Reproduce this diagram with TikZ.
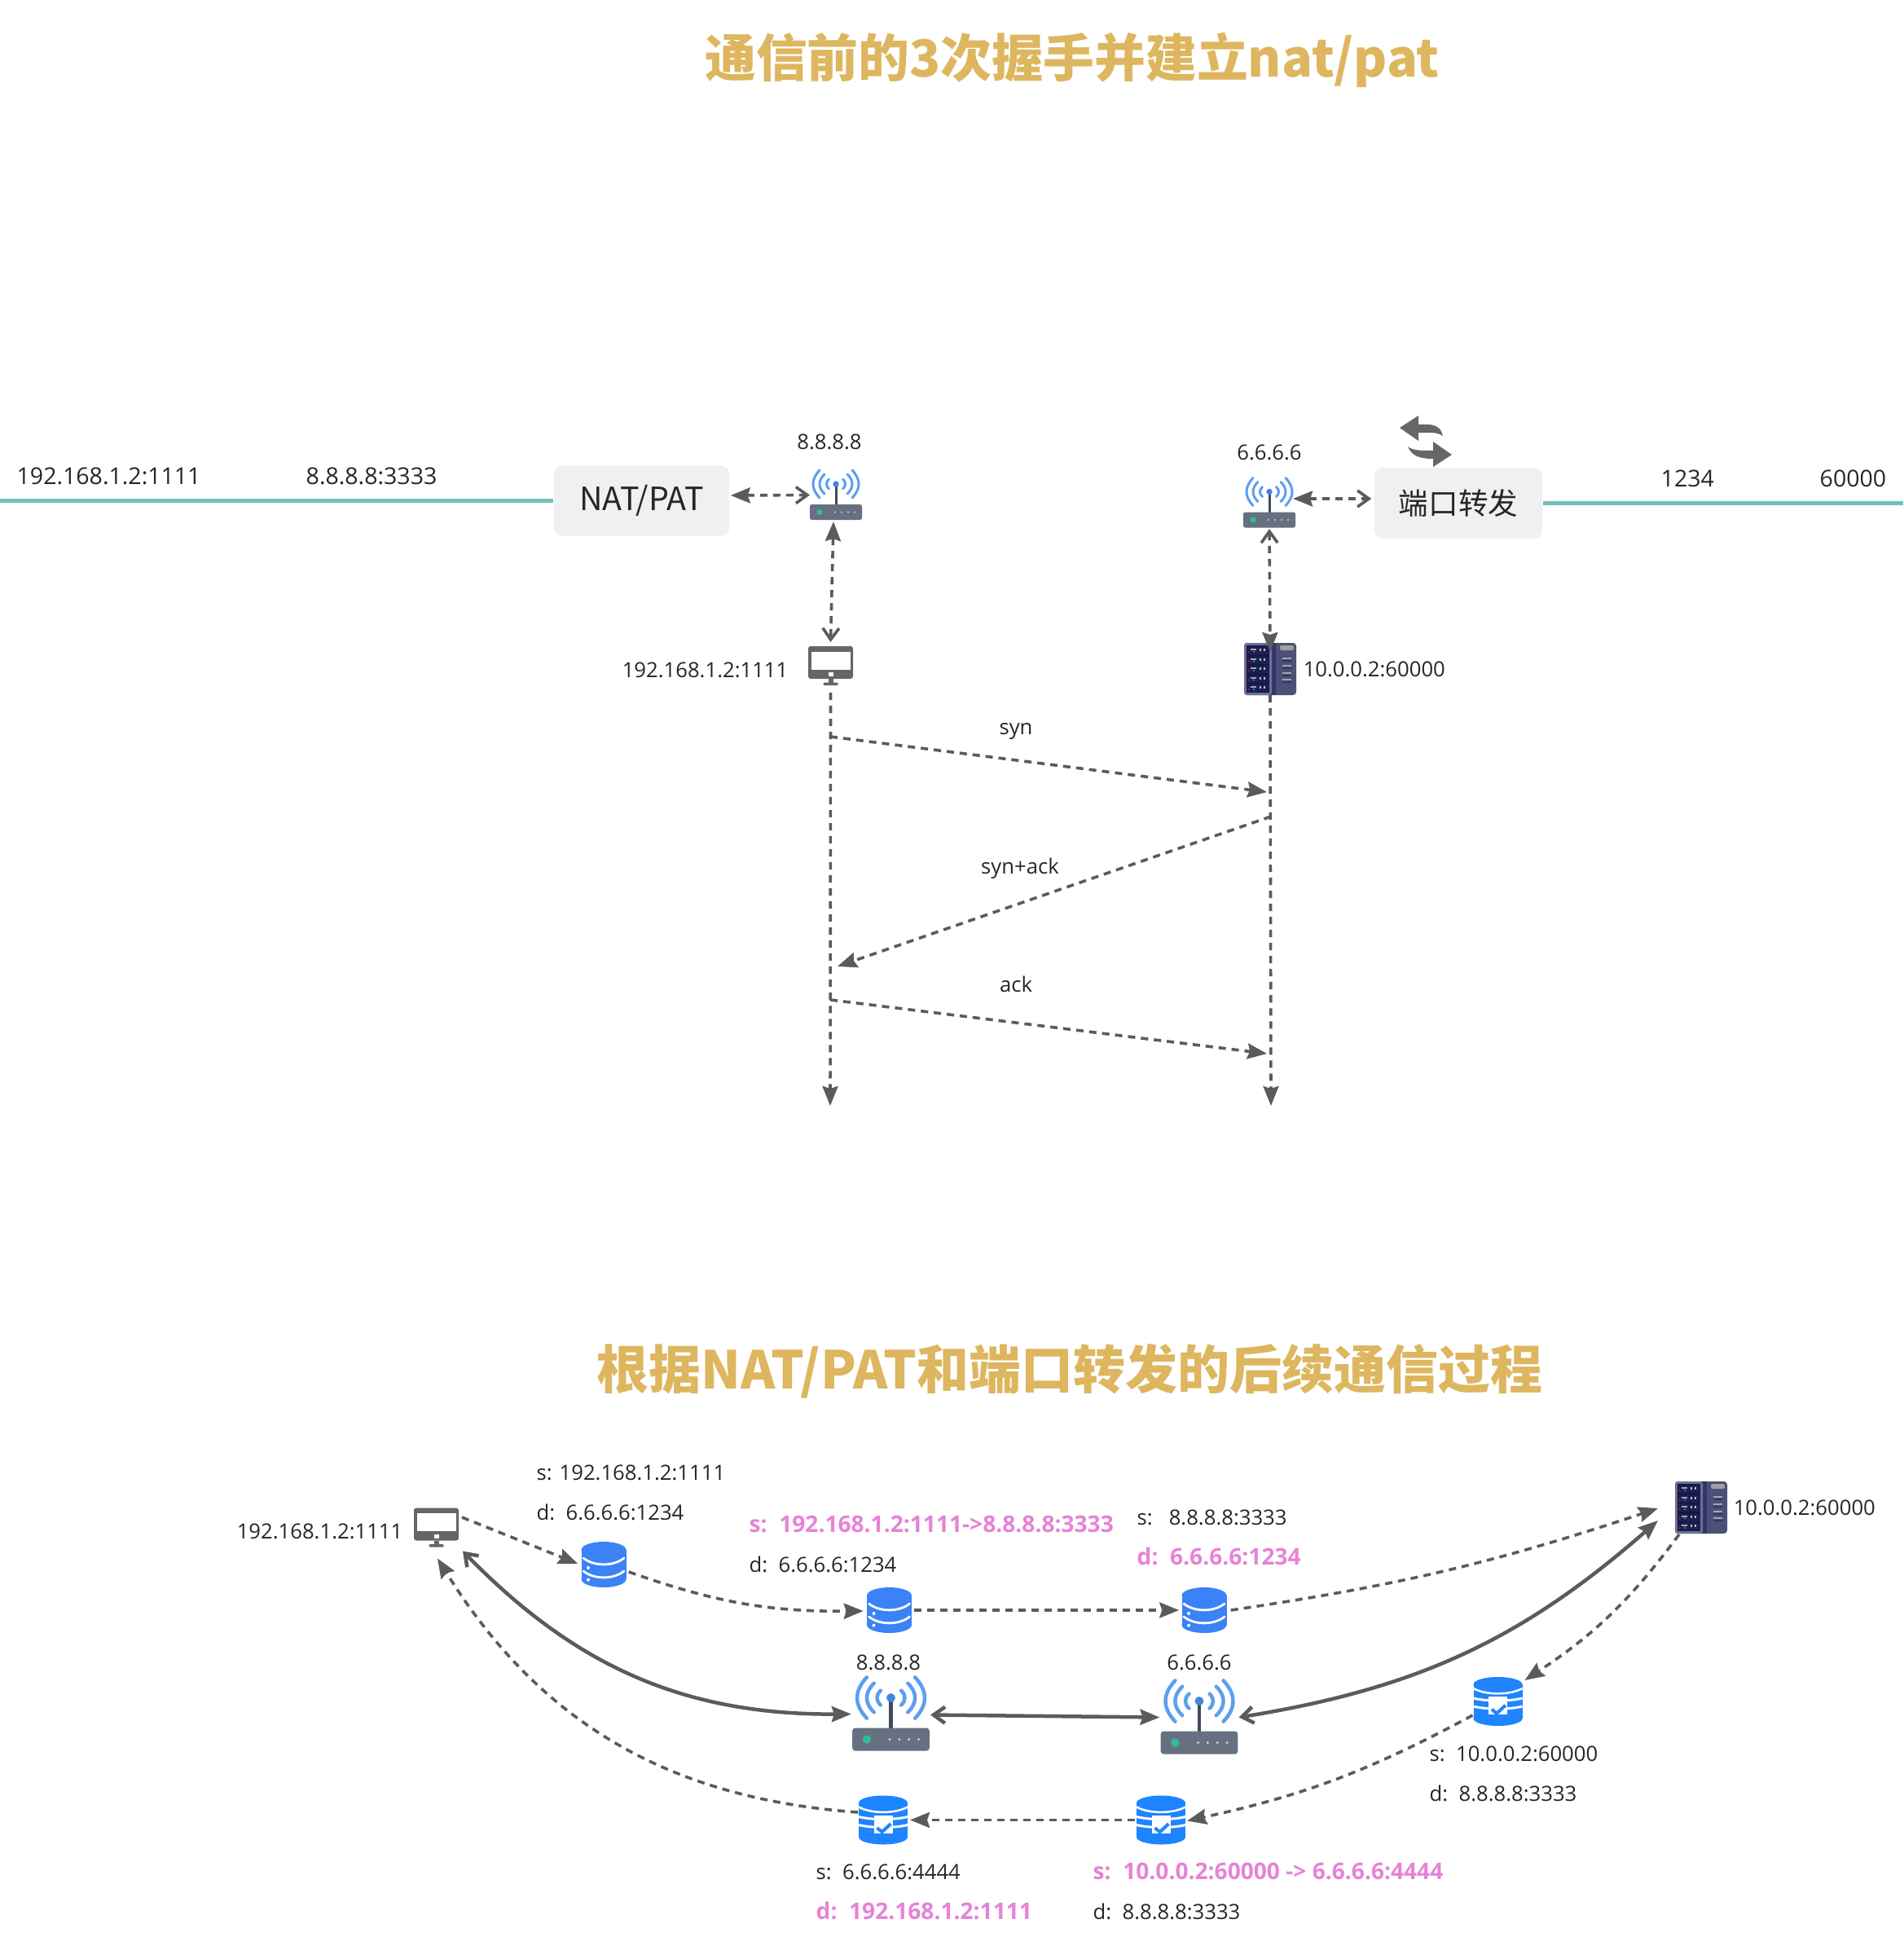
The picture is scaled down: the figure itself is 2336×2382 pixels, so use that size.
\documentclass[tikz,border=0pt]{standalone}
\usepackage{fontspec}
\setmainfont{Open Sans}
\newfontfamily\cjk{Noto Sans CJK SC}
\usetikzlibrary{arrows.meta,positioning,calc}
\definecolor{linegray}{HTML}{5A5C5A}
\definecolor{icongray}{HTML}{666666}
\definecolor{wirecol}{HTML}{6FC1BB}
\definecolor{boxfill}{HTML}{EFF1F0}
\definecolor{titlecol}{HTML}{DDB65F}
\definecolor{hotpink}{HTML}{E683D6}
\definecolor{textcol}{HTML}{262626}
\definecolor{dbblue}{HTML}{3B82F6}
\definecolor{chkblue}{HTML}{1E84FF}
\definecolor{wavecol}{HTML}{5B9FEF}
\definecolor{mastcol}{HTML}{3F4A5A}
\definecolor{tipdot}{HTML}{4285E0}
\definecolor{routerbody}{HTML}{667080}
\definecolor{ledcol}{HTML}{2EBD94}
\definecolor{rackbody}{HTML}{4C4F76}
\definecolor{rackedge}{HTML}{6E6F94}
\definecolor{rackdark}{HTML}{14174A}
\definecolor{rackrow}{HTML}{1C2050}
\definecolor{rackstrip}{HTML}{33356A}
\tikzset{
  pics/router/.style={code={
    \begin{scope}[scale=#1]
      \foreach \side in {1,-1}{
        \draw[wavecol, line width=#1*0.03cm, line cap=round]
          (\side*20,-30.5) .. controls (\side*30.7,-19) and (\side*30.7,-8) .. (\side*20,3.5);
        \draw[wavecol, line width=#1*0.03cm, line cap=round]
          (\side*14,-25.5) .. controls (\side*22,-18) and (\side*22,-9) .. (\side*14,-1.5);
        \draw[wavecol, line width=#1*0.03cm, line cap=round]
          (\side*8.5,-19.5) .. controls (\side*12.5,-16) and (\side*12.5,-11) .. (\side*8.5,-7.5);
      }
      \draw[mastcol, line width=#1*0.03cm] (0,-13.5) -- (0,11.5);
      \fill[tipdot] (0,-13.5) circle [radius=3.7];
      \fill[rounded corners=#1*0.025cm, fill=routerbody] (-32,11.5) rectangle (32,30.5);
      \fill[ledcol] (-20,21) circle [radius=3.6];
      \foreach \dotx in {-1,7,15,23}
        \fill[gray!35] (\dotx,21) circle [radius=1.1];
    \end{scope}
  }},
  pics/screen/.style={code={
    \begin{scope}[scale=#1]
      \fill[icongray, rounded corners=#1*0.03cm] (-27.5,-24) rectangle (27.5,16);
      \fill[white] (-24,-17.5) rectangle (24,4.7);
      \fill[icongray] (-3,16) rectangle (3,21);
      \fill[white] (-3,8) rectangle (3,13);
      \fill[icongray, rounded corners=#1*0.01cm] (-9,20.5) rectangle (9,24);
    \end{scope}
  }},
  pics/dbplain/.style={code={
    \begin{scope}[scale=#1]
      \fill[dbblue] (0,-18) ellipse [x radius=27.5, y radius=10];
      \fill[dbblue] (0,18) ellipse [x radius=27.5, y radius=10];
      \fill[dbblue] (-27.5,-18) rectangle (27.5,18);
      \draw[white, line width=#1*0.028cm, line cap=round] (-25,-8) .. controls (-12,2.5) and (12,2.5) .. (25,-8);
      \draw[white, line width=#1*0.028cm, line cap=round] (-25,8) .. controls (-12,18.5) and (12,18.5) .. (25,8);
      \fill[white] (-19,4) circle [radius=2];
      \fill[white] (-19,18.7) circle [radius=2];
    \end{scope}
  }},
  pics/dbcheck/.style={code={
    \begin{scope}[scale=#1]
      \fill[chkblue] (0,21) ellipse [x radius=30, y radius=9];
      \fill[chkblue] (-30,-21) rectangle (30,21);
      \fill[chkblue] (0,-21) ellipse [x radius=30, y radius=9];
      \draw[white, line width=#1*0.025cm] (-30,-16) .. controls (-15,-7.5) and (15,-7.5) .. (30,-16);
      \draw[white, line width=#1*0.03cm] (-30,-4) .. controls (-15,0) and (15,0) .. (30,-4);
      \draw[white, line width=#1*0.03cm] (-30,6) .. controls (-15,10) and (15,10) .. (30,6);
      \fill[white] (-11.5,-6) rectangle (11.5,16);
      \draw[chkblue, line width=#1*0.04cm] (-7.5,9.7) -- (-1.4,14.7) -- (9.3,4.7);
    \end{scope}
  }},
  pics/rack/.style={code={
    \fill[rackbody, rounded corners=0.04cm] (-32,-32) rectangle (32,32);
    \fill[rackstrip] (0,-32) rectangle (7,32);
    \fill[rackedge, rounded corners=0.03cm] (-32,-32) rectangle (2,32);
    \fill[rackdark] (-29,-29) rectangle (-1,29);
    \foreach \rowy in {-22,-10.5,1,12.5,24}{
      \fill[rackrow] (-28,\rowy-5) rectangle (-2,\rowy+4);
      \fill[red] (-26.5,\rowy+1) circle [radius=1.2];
      \fill[cyan] (-20,\rowy+1) circle [radius=1.2];
      \fill[gray!70] (-24,\rowy-3) rectangle (-17,\rowy-1);
      \fill[gray!50] (-13,\rowy-3) rectangle (-11.5,\rowy);
      \fill[gray!50] (-8,\rowy-3) rectangle (-6.5,\rowy);
    }
    \fill[gray!75, rounded corners=0.02cm] (12,-29) rectangle (29,-23);
    \foreach \slotx in {-13,-4,5,13}{
      \fill[gray!70] (15,\slotx-1) rectangle (26,\slotx+1);
    }
    \foreach \slotx in {-10,-1,8,16}{
      \fill[rackstrip] (15,\slotx-0.7) rectangle (26,\slotx+0.7);
    }
  }},
  pics/swapicon/.style={code={
    \fill[icongray] (-32,-16) -- (-9,-31) -- (-9,-20) .. controls (7,-21) and (18,-20) .. (21,-6)
      .. controls (14,-11) and (5,-10) .. (-9,-10) -- (-9,0) -- cycle;
    \fill[icongray] (32,17) -- (9,1) -- (9,12) .. controls (-6,12) and (-16,12) .. (-22,7)
      .. controls (-18,18) and (-8,22) .. (9,22) -- (9,32) -- cycle;
  }},
  ftip/.tip={Stealth[length=0.24cm, width=0.19cm, inset=0.03cm]},
  otip/.tip={Straight Barb[length=0.14cm, width=0.2cm]}
}

\begin{document}
\begin{tikzpicture}[
    x=0.01cm, y=-0.01cm,
    bigtitle/.style={font=\cjk\bfseries\fontsize{18.2pt}{22pt}\selectfont, text=titlecol, inner sep=0pt},
    box/.style={rectangle, rounded corners=3pt, fill=boxfill, text=textcol, inner sep=0pt,
                minimum height=0.87cm, font=\cjk\fontsize{10.4pt}{12pt}\selectfont},
    icon/.style={inner sep=0pt, outer sep=0pt, minimum width=#1},
    lbl/.style={inner sep=0pt, text=textcol, text height=0.19cm, text depth=0pt,
                font=\fontsize{7.3pt}{9pt}\selectfont},
    wirelbl/.style={lbl, font=\fontsize{8.1pt}{10pt}\selectfont},
    hot/.style={lbl, text=hotpink, font=\bfseries\fontsize{8pt}{9pt}\selectfont},
    nextline/.style={below right=0.29cm and 0cm of #1.south west},
    wire/.style={wirecol, line width=0.05cm},
    dline/.style={linegray, line width=0.036cm, dash pattern=on 0.09cm off 0.07cm},
    sline/.style={linegray, line width=0.045cm}
  ]
  \useasboundingbox (0,0) rectangle (2336,2382);

  % upper half
  \node[bigtitle, font=\cjk\bfseries\fontsize{17.87pt}{22pt}\selectfont] (titlea) at (1316,74) {通信前的3次握手并建立nat/pat};
  \node[box, minimum width=2.15cm, font=\cjk\fontsize{11.2pt}{13pt}\selectfont] (nat) at (787.5,614.5) {NAT/PAT};
  \node[box, minimum width=2.06cm] (port) at (1790,617.5) {端口转发};
  \node[icon=0.64cm, minimum height=0.61cm] (r1) at (1026,607.5) {};
  \node[icon=0.64cm, minimum height=0.60cm] (r2) at (1558,617) {};
  \node[icon=0.55cm, minimum height=0.48cm] (m1) at (1019.5,817) {};
  \node[icon=0.64cm, minimum height=0.64cm] (s1) at (1559,821) {};
  \pic at (r1) {router=1};
  \pic at (r2) {router=1};
  \pic at (m1) {screen=1};
  \pic at (s1) {rack};
  \pic at (1750,541) {swapicon};

  \node[lbl, above=0.25cm of r1, xshift=-0.08cm] (r1ip) {8.8.8.8};
  \node[lbl, above=0.22cm of r2] (r2ip) {6.6.6.6};
  \node[lbl, left=0.24cm of m1, yshift=-0.05cm] (m1ip) {192.168.1.2:1111};
  \node[lbl, right=0.08cm of s1] (s1ip) {10.0.0.2:60000};

  \coordinate (wirea) at (0,614.5);
  \coordinate (wireb) at (2336,617.5);
  \draw[wire] (wirea) -- (nat.west);
  \draw[wire] (port.east) -- (wireb);
  \node[wirelbl, anchor=west] (wla) at (20,585) {192.168.1.2:1111};
  \node[wirelbl, anchor=west] (wlb) at (375,585) {8.8.8.8:3333};
  \node[wirelbl, anchor=west] (wlc) at (2038,588) {1234};
  \node[wirelbl, anchor=west] (wld) at (2233,588) {60000};

  \draw[dline, {ftip}-{otip}] ($(nat.east)+(1,-6.5)$) -- (r1.west);
  \draw[dline, {ftip}-{otip}] ($(r1.south)+(-3,2)$) -- ($(m1.north)+(0,-5)$);
  \draw[dline, {ftip}-{otip}] ($(r2.east)+(-3,-5)$) -- ($(port.west)+(-3,-5.5)$);
  \draw[dline, {otip}-{ftip}] ($(r2.south)+(0,2)$) -- ($(s1.north)+(0,11)$);

  % the three messages
  \coordinate (enda) at (1019,1357);
  \coordinate (endb) at (1560,1357);
  \coordinate (syna) at (1019,904);
  \coordinate (synb) at (1555,972);
  \coordinate (acka) at (1560,1002);
  \coordinate (ackb) at (1028,1186);
  \coordinate (lasta) at (1019,1227);
  \coordinate (lastb) at (1555,1293);
  \draw[dline, -{ftip}] ($(m1.south)+(0,9)$) -- (enda);
  \draw[dline, -{ftip}] (s1.south) -- (endb);
  \draw[dline, -{ftip}] (syna) -- (synb);
  \draw[dline, -{ftip}] (acka) -- (ackb);
  \draw[dline, -{ftip}] (lasta) -- (lastb);
  \node[lbl] (synlbl) at (1247,892) {syn};
  \node[lbl] (acklbl) at (1252,1063) {syn+ack};
  \node[lbl] (lastlbl) at (1247,1208) {ack};

  % lower half
  \node[bigtitle] (titleb) at (1313,1683) {根据NAT/PAT和端口转发的后续通信过程};
  \node[icon=0.55cm, minimum height=0.48cm] (m2) at (535.5,1874.5) {};
  \node[icon=0.555cm, minimum height=0.56cm] (db1) at (741,1920) {};
  \node[icon=0.555cm, minimum height=0.56cm] (db2) at (1091.5,1976) {};
  \node[icon=0.555cm, minimum height=0.56cm] (db3) at (1478,1976) {};
  \node[icon=0.64cm, minimum height=0.64cm] (s2) at (2088,1850) {};
  \node[icon=0.95cm, minimum height=0.91cm] (r3) at (1093.5,2103.5) {};
  \node[icon=0.95cm, minimum height=0.91cm] (r4) at (1472,2107.5) {};
  \node[icon=0.60cm, minimum height=0.60cm] (db5) at (1838.5,2088) {};
  \node[icon=0.60cm, minimum height=0.60cm] (db6) at (1425,2233.5) {};
  \node[icon=0.60cm, minimum height=0.60cm] (db7) at (1084,2233.5) {};
  \pic at (m2) {screen=1};
  \pic at (s2) {rack};
  \pic at (r3) {router=1.48};
  \pic at (r4) {router=1.48};
  \foreach \dbname in {db1,db2,db3} \pic at (\dbname) {dbplain=1};
  \foreach \dbname in {db5,db6,db7} \pic at (\dbname) {dbcheck=1};

  \node[lbl, left=0.13cm of m2, yshift=-0.045cm] (m2ip) {192.168.1.2:1111};
  \node[lbl, right=0.07cm of s2] (s2ip) {10.0.0.2:60000};
  \node[lbl, above=0.08cm of r3, xshift=-0.03cm] (r3ip) {8.8.8.8};
  \node[lbl, above=0.12cm of r4] (r4ip) {6.6.6.6};

  \node[lbl, anchor=west] (sa) at (658,1807) {s: 192.168.1.2:1111};
  \node[lbl, nextline=sa] (da) {d:\ \ 6.6.6.6:1234};
  \node[hot, anchor=west] (sb) at (919,1871) {s:\ \ 192.168.1.2:1111->8.8.8.8:3333};
  \node[lbl, nextline=sb] (db) {d:\ \ 6.6.6.6:1234};
  \node[lbl, anchor=west] (sc) at (1395,1862) {s:\ \ \ 8.8.8.8:3333};
  \node[hot, nextline=sc] (dc) {d:\ \ 6.6.6.6:1234};
  \node[lbl, anchor=west] (sd) at (1754,2152) {s:\ \ 10.0.0.2:60000};
  \node[lbl, nextline=sd] (dd) {d:\ \ 8.8.8.8:3333};
  \node[hot, anchor=west] (se) at (1341,2297) {s:\ \ 10.0.0.2:60000 -> 6.6.6.6:4444};
  \node[lbl, nextline=se] (de) {d:\ \ 8.8.8.8:3333};
  \node[lbl, anchor=west] (sf) at (1001,2297) {s:\ \ 6.6.6.6:4444};
  \node[hot, nextline=sf] (df) {d:\ \ 192.168.1.2:1111};

  \draw[dline, -{ftip}] ($(m2.east)+(4,-12.5)$) -- ($(db1.west)+(-4,-1)$);
  \draw[dline, -{ftip}] ($(db1.east)+(3,9)$) to[bend right=10] ($(db2.west)+(-4,1)$);
  \draw[dline, -{ftip}] ($(db2.east)+(3,0)$) -- ($(db3.west)+(-3,0)$);
  \draw[dline, -{ftip}] ($(db3.east)+(5,0)$) to[bend right=5] ($(s2.west)+(-21,1)$);
  \draw[dline, -{ftip}] ($(s2.south)+(-27,1)$) to[bend left=10] ($(db5.north)+(33,4)$);
  \draw[dline, -{ftip}] ($(db5.west)+(-1,17)$) to[bend left=8] ($(db6.east)+(2,1)$);
  \draw[dline, -{ftip}] ($(db6.west)+(-2,0)$) -- ($(db7.east)+(3,0)$);
  \draw[dline, -{ftip}] ($(db7.west)+(-1,-9.5)$) to[bend left=27] ($(m2.south)+(1.5,14)$);
  \draw[sline, {ftip}-{otip}] ($(r3.west)+(-1,0)$) to[bend left=23] ($(m2.south)+(32.5,5)$);
  \draw[sline, {otip}-{ftip}] ($(r3.east)+(1,1)$) -- ($(r4.west)+(-1,0)$);
  \draw[sline, {otip}-{ftip}] ($(r4.east)+(1,0)$) to[bend right=16] ($(s2.west)+(-21,16)$);
\end{tikzpicture}
\end{document}
